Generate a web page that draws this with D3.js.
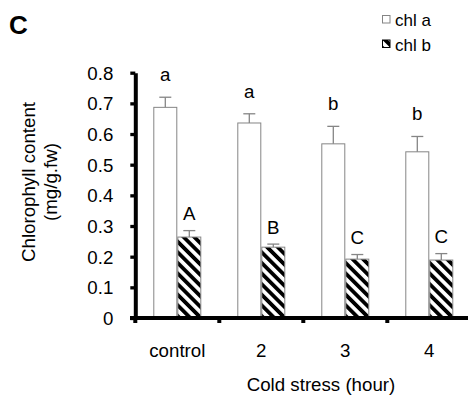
<!DOCTYPE html>
<html>
<head>
<meta charset="utf-8">
<script src="https://cdn.jsdelivr.net/npm/d3@7/dist/d3.min.js"></script>
<style>
  html, body { margin: 0; padding: 0; background: #fff; }
  svg { display: block; font-family: "Liberation Sans", Arial, sans-serif; }
</style>
</head>
<body>
<svg id="chart" width="468" height="397"></svg>
<script>
// Chlorophyll content under cold stress
const categories = ["control", "2", "3", "4"];
const seriesNames = ["chl a", "chl b"];
const chlA = [0.687, 0.636, 0.568, 0.542];
const chlAErr = [0.033, 0.030, 0.057, 0.050];
const chlB = [0.264, 0.231, 0.192, 0.189];
const chlBErr = [0.021, 0.010, 0.015, 0.021];
const chlALetters = ["a", "a", "b", "b"];
const chlBLetters = ["A", "B", "C", "C"];
const yTicks = [0, 0.1, 0.2, 0.3, 0.4, 0.5, 0.6, 0.7, 0.8];
const yTickLabels = ["0", "0.1", "0.2", "0.3", "0.4", "0.5", "0.6", "0.7", "0.8"];

const svg = d3.select("#chart");
const fontSize = 18.7;
const grey = "#858585";

// hatch pattern for chl b
const defs = svg.append("defs");
const pat = defs.append("pattern")
  .attr("id", "hatch")
  .attr("patternUnits", "userSpaceOnUse")
  .attr("width", 7.5).attr("height", 7.5)
  .attr("patternTransform", "rotate(-45)");
pat.append("rect").attr("width", 7.5).attr("height", 7.5).attr("fill", "#fff");
pat.append("rect").attr("width", 3.8).attr("height", 7.5).attr("fill", "#000");

const x = d3.scaleBand().domain(categories).range([135.3, 471.3]).padding(0);
const barW = 24;
const xs = d3.scaleBand().domain(seriesNames).range([-barW, barW]).padding(0);
const y = d3.scaleLinear().domain([0, 0.8]).range([318, 72.7]);

const rows = categories.map((c, i) => ({
  cat: c,
  vals: [
    { s: "chl a", v: chlA[i], e: chlAErr[i], letter: chlALetters[i], off: 16 },
    { s: "chl b", v: chlB[i], e: chlBErr[i], letter: chlBLetters[i], off: 10.5 }
  ]
}));

const groups = svg.append("g").selectAll("g")
  .data(rows).join("g")
  .attr("transform", d => `translate(${x(d.cat) + x.bandwidth() / 2},0)`);

// bars
groups.selectAll("rect")
  .data(d => d.vals).join("rect")
  .attr("x", d => xs(d.s) + 0.5)
  .attr("width", xs.bandwidth() - 1)
  .attr("y", d => y(d.v))
  .attr("height", d => y(0) - y(d.v))
  .attr("fill", d => d.s === "chl a" ? "#fff" : "url(#hatch)")
  .attr("stroke", grey)
  .attr("stroke-width", 1);

// error bars (upper half)
const eb = groups.selectAll("g.err")
  .data(d => d.vals).join("g").attr("class", "err")
  .attr("transform", d => `translate(${xs(d.s) + xs.bandwidth() / 2},0)`);
eb.append("line")
  .attr("x1", 0).attr("x2", 0)
  .attr("y1", d => y(d.v)).attr("y2", d => y(d.v + d.e))
  .attr("stroke", grey).attr("stroke-width", 1.3);
eb.append("line")
  .attr("x1", -6).attr("x2", 6)
  .attr("y1", d => y(d.v + d.e)).attr("y2", d => y(d.v + d.e))
  .attr("stroke", grey).attr("stroke-width", 1.3);
eb.append("text")
  .attr("x", 0)
  .attr("y", d => y(d.v + d.e) - d.off)
  .attr("text-anchor", "middle")
  .attr("font-size", fontSize)
  .attr("fill", "#000")
  .text(d => d.letter);

// y axis
const yAxis = svg.append("g")
  .attr("transform", "translate(135.3,0)")
  .call(d3.axisLeft(y).tickValues(yTicks)
    .tickFormat((d, i) => yTickLabels[i])
    .tickSize(5).tickSizeOuter(0).tickPadding(17));
yAxis.select(".domain").attr("stroke", "#000").attr("stroke-width", 4);
yAxis.selectAll(".tick line").attr("stroke", "#000").attr("stroke-width", 3.3);
yAxis.selectAll(".tick text")
  .attr("font-size", fontSize)
  .attr("font-family", "Liberation Sans, Arial, sans-serif")
  .attr("fill", "#000")
  .attr("dy", "0.35em");

// x axis: line, boundary ticks, centred labels
const xAxis = svg.append("g")
  .attr("transform", "translate(0,318)")
  .call(d3.axisBottom(x).tickSize(0).tickSizeOuter(0).tickPadding(0));
xAxis.select(".domain")
  .attr("d", `M130,0H468`)
  .attr("stroke", "#000").attr("stroke-width", 4);
xAxis.selectAll(".tick text")
  .attr("font-size", fontSize)
  .attr("font-family", "Liberation Sans, Arial, sans-serif")
  .attr("fill", "#000")
  .attr("dy", null)
  .attr("y", 39);
xAxis.selectAll("line.bound")
  .data(categories).join("line").attr("class", "bound")
  .attr("x1", d => x(d)).attr("x2", d => x(d))
  .attr("y1", 0).attr("y2", 5)
  .attr("stroke", "#000").attr("stroke-width", 4);

// axis titles
svg.append("text")
  .attr("x", 321).attr("y", 390.5)
  .attr("text-anchor", "middle")
  .attr("font-size", fontSize)
  .text("Cold stress (hour)");

const yTitle = svg.append("text")
  .attr("transform", "translate(35,182) rotate(-90)")
  .attr("text-anchor", "middle")
  .attr("font-size", fontSize);
yTitle.append("tspan").attr("x", 0).attr("y", 0).text("Chlorophyll content");
yTitle.append("tspan").attr("x", 0).attr("y", 21.7).text("(mg/g.fw)");

// panel letter
svg.append("text")
  .attr("x", 9).attr("y", 33.5)
  .attr("font-size", 26)
  .attr("font-weight", "bold")
  .text("C");

// legend
const legend = svg.append("g").selectAll("g")
  .data(seriesNames).join("g")
  .attr("transform", (d, i) => `translate(382,${15 + i * 24.5})`);
legend.append("rect")
  .attr("x", 0.5).attr("y", 0.5)
  .attr("width", 7.5).attr("height", 7.5)
  .attr("fill", d => d === "chl a" ? "#fff" : "url(#hatch)")
  .attr("stroke", d => d === "chl a" ? grey : "#000")
  .attr("stroke-width", 1);
legend.append("text")
  .attr("x", 13).attr("y", 11)
  .attr("font-size", 17)
  .text(d => d);
</script>
</body>
</html>
